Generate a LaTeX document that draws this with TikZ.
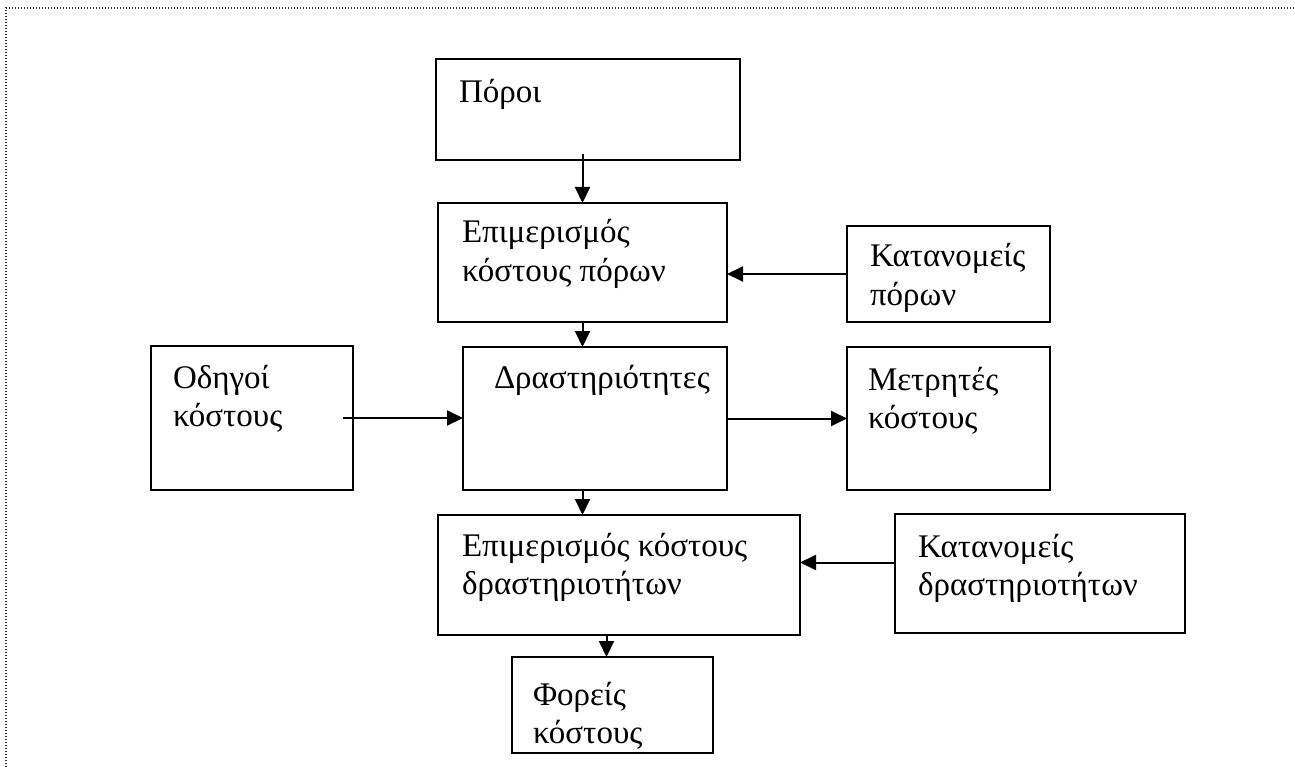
\documentclass[tikz,border=0pt]{standalone}
\usepackage{fontspec}
\setmainfont{Liberation Serif}
\usepackage{tikz}
\usetikzlibrary{arrows.meta,calc,positioning}

% text inside a box: width, height, left pad, first baseline, text
\newcommand{\boxtxt}[5]{\begin{minipage}[t][#2][t]{#1}\vspace{0pt}\raggedright\leftskip=#3\rule{0pt}{#4}#5\end{minipage}}

\begin{document}
\begin{tikzpicture}[x=1pt,y=-1pt,
	blk/.style={draw,line width=2.4pt,anchor=north west,inner sep=0pt,outer sep=0pt,
		font=\fontsize{33}{38.5}\selectfont},
	arr/.style={line width=2pt,-{Triangle[length=16pt,width=15pt]}}]
		\useasboundingbox (0,0) rectangle (1295,767);
		\draw[line width=1.4pt,black!80,dash pattern=on 1.4pt off 1.6pt] (6,767) -- (6,8) -- (1295,8);
		% boxes
		\node[blk] (poroi) at (436,59) {\boxtxt{304pt}{101pt}{23pt}{44pt}{Πόροι}};
		\node[blk] (epimP) at (438,203) {\boxtxt{289pt}{119pt}{24pt}{40pt}{Επιμερισμός\\κόστους πόρων}};
		\node[blk] (katP) at (847,226) {\boxtxt{203pt}{96pt}{23pt}{41pt}{Κατανομείς\\πόρων}};
		\node[blk] (odig) at (151,346) {\boxtxt{202pt}{144pt}{22pt}{42pt}{Οδηγοί\\κόστους}};
		\node[blk] (drast) at (463,347) {\boxtxt{264pt}{143pt}{31pt}{41pt}{Δραστηριότητες}};
		\node[blk] (metr) at (847,347) {\boxtxt{203pt}{143pt}{21pt}{43pt}{Μετρητές\\κόστους}};
		\node[blk] (epimD) at (438,515) {\boxtxt{362pt}{120pt}{24pt}{41pt}{Επιμερισμός κόστους\\δραστηριοτήτων}};
		\node[blk] (katD) at (895,514) {\boxtxt{290pt}{119pt}{23pt}{43pt}{Κατανομείς\\δραστηριοτήτων}};
		\node[blk] (foreis) at (512,657) {\boxtxt{201pt}{96pt}{21pt}{48pt}{Φορείς\\κόστους}};
		% arrows
		\draw[arr] ([yshift=6pt]epimP.north |- poroi.south) -- (epimP.north);
		\draw[arr] (epimP.south) -- (epimP.south |- drast.north);
		\draw[arr] (katP.west) -- (katP.west -| epimP.east);
		\draw[arr] ([xshift=-10pt]odig.east) -- (drast.west |- odig.east);
		\draw[arr] (drast.east |- metr.west) -- (metr.west);
		\draw[arr] (epimP.south |- drast.south) -- (epimP.south |- epimD.north);
		\draw[arr] ([yshift=11pt]katD.west) -- ([yshift=11pt]katD.west -| epimD.east);
		\draw[arr] ([xshift=-6pt]foreis.north |- epimD.south) -- ([xshift=-6pt]foreis.north);
		\end{tikzpicture}
\end{document}
